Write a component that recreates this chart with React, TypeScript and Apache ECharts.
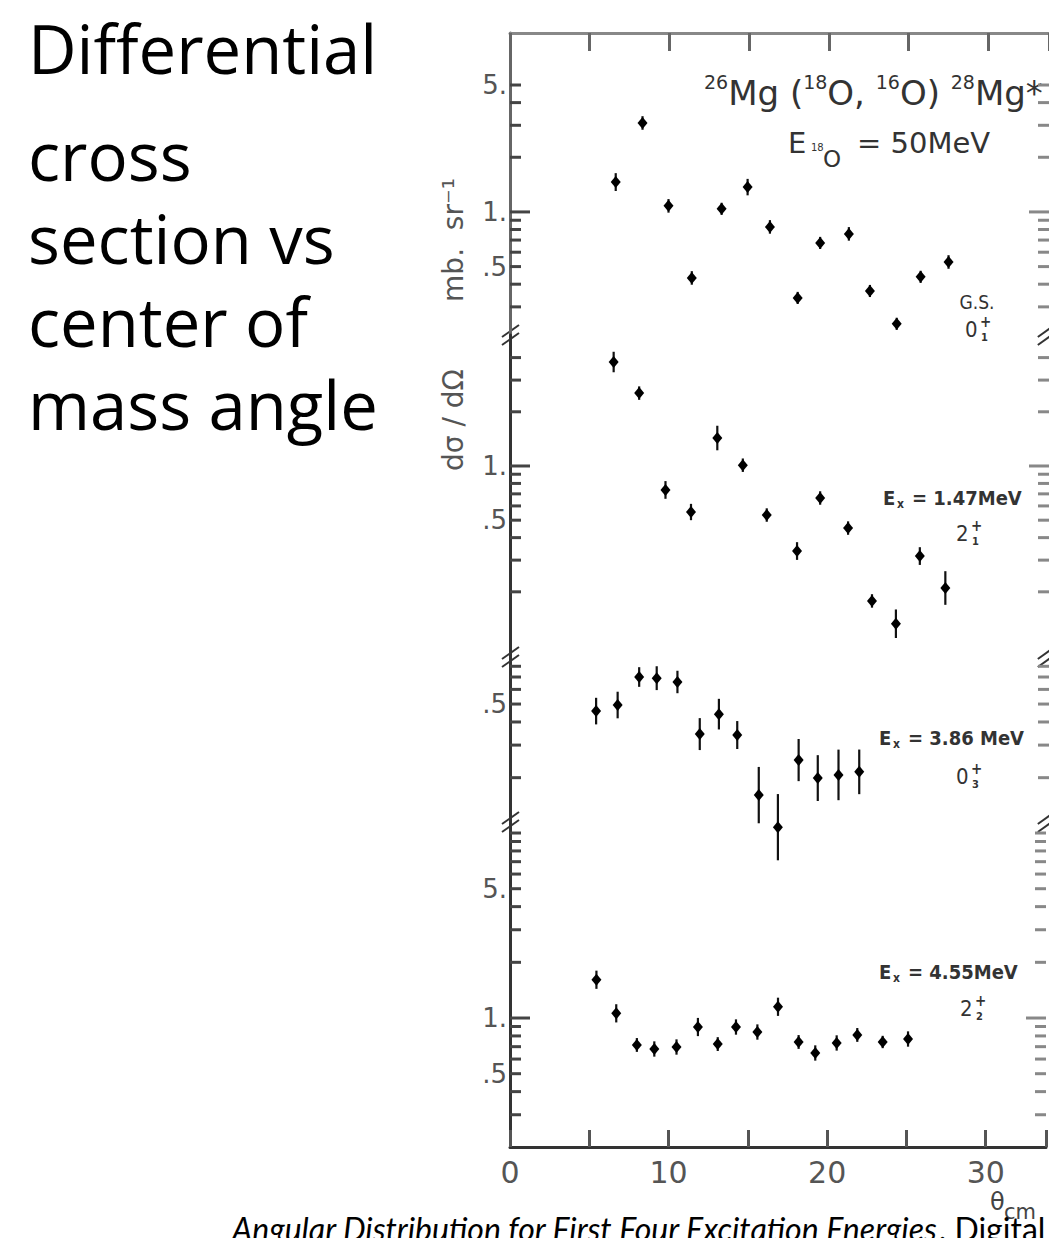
import React, { useEffect, useRef } from "react";
import * as echarts from "echarts";

// ---------------- data ----------------
const THETA_TICK_LABELS = ["0", "10", "20", "30"];

// Panel 1: ground state 0+1
const GS_THETA = [6.63, 8.31, 9.94, 11.4, 13.27, 14.9, 16.3, 18.04, 19.45, 21.25, 22.57, 24.25, 25.75, 27.5];
const GS_SIGMA = [1.46, 3.09, 1.08, 0.433, 1.04, 1.37, 0.827, 0.336, 0.675, 0.757, 0.367, 0.242, 0.439, 0.53];
const GS_ERR = [1.12, 1.09, 1.09, 1.09, 1.08, 1.11, 1.09, 1.08, 1.08, 1.09, 1.08, 1.08, 1.08, 1.09];

// Panel 2: Ex = 1.47 MeV 2+1
const E147_THETA = [6.5, 8.1, 9.75, 11.35, 13.0, 14.6, 16.1, 18.0, 19.45, 21.2, 22.7, 24.2, 25.7, 27.3];
const E147_SIGMA = [3.78, 2.54, 0.736, 0.555, 1.43, 1.01, 0.534, 0.337, 0.664, 0.452, 0.178, 0.133, 0.316, 0.21];
const E147_ERR = [1.14, 1.09, 1.12, 1.11, 1.17, 1.09, 1.09, 1.12, 1.09, 1.09, 1.09, 1.2, 1.12, 1.24];

// Panel 3: Ex = 3.86 MeV 0+3
const E386_THETA = [5.4, 6.75, 8.1, 9.2, 10.5, 11.9, 13.1, 14.25, 15.6, 16.8, 18.1, 19.3, 20.6, 21.9];
const E386_SIGMA = [0.458, 0.494, 0.7, 0.69, 0.658, 0.344, 0.441, 0.34, 0.161, 0.108, 0.249, 0.199, 0.207, 0.215];
const E386_ERR = [1.18, 1.18, 1.13, 1.16, 1.15, 1.22, 1.21, 1.19, 1.42, 1.51, 1.3, 1.33, 1.37, 1.32];

// Panel 4: Ex = 4.55 MeV 2+2
const E455_THETA = [5.45, 6.7, 8.0, 9.1, 10.5, 11.85, 13.1, 14.25, 15.6, 16.9, 18.2, 19.25, 20.6, 21.9, 23.5, 25.1];
const E455_SIGMA = [1.61, 1.06, 0.715, 0.68, 0.697, 0.894, 0.723, 0.894, 0.84, 1.15, 0.742, 0.647, 0.733, 0.81, 0.742, 0.77];
const E455_ERR = [1.12, 1.12, 1.09, 1.1, 1.1, 1.12, 1.09, 1.1, 1.1, 1.12, 1.09, 1.1, 1.1, 1.09, 1.08, 1.1];

// y-axis ticks and labels per panel
const GS_TICKS = [0.3, 0.4, 0.5, 0.6, 0.7, 0.8, 0.9, 1, 2, 3, 4, 5];
const E147_TICKS = [0.2, 0.3, 0.4, 0.5, 0.6, 0.7, 0.8, 0.9, 1, 2, 3, 4];
const E386_TICKS = [0.2, 0.3, 0.4, 0.5, 0.6, 0.7, 0.8];
const E455_TICKS = [0.3, 0.4, 0.5, 0.6, 0.7, 0.8, 0.9, 1, 2, 3, 4, 5, 6, 7, 8, 9, 10];

const GS_LABEL_VALUES = [5, 1, 0.5];
const GS_LABELS = ["5.", "1.", ".5"];
const E147_LABEL_VALUES = [1, 0.5];
const E147_LABELS = ["1.", ".5"];
const E386_LABEL_VALUES = [0.5];
const E386_LABELS = [".5"];
const E455_LABEL_VALUES = [5, 1, 0.5];
const E455_LABELS = ["5.", "1.", ".5"];

// axis ranges (log scale)
const GS_RANGE = [0.21, 9.67];
const E147_RANGE = [0.0869, 5.34];
const E386_RANGE = [0.1152, 0.898];
const E455_RANGE = [0.2008, 11.47];

const X_MIN = 0;
const X_MAX = 33.8;

const SIDE_TEXT = ["Differential", "cross", "section vs", "center of", "mass angle"];

// ---------------- layout ----------------
const GRID_LEFT = 510;
const PX_PER_DEG = 16;
const PANEL_EDGES = [33, 335, 657, 822, 1147];
const SIDE_TEXT_Y = [47.5, 155, 238, 321, 404];

const PANELS = [
  { theta: GS_THETA, sigma: GS_SIGMA, err: GS_ERR, ticks: GS_TICKS, lv: GS_LABEL_VALUES, lt: GS_LABELS, range: GS_RANGE },
  { theta: E147_THETA, sigma: E147_SIGMA, err: E147_ERR, ticks: E147_TICKS, lv: E147_LABEL_VALUES, lt: E147_LABELS, range: E147_RANGE },
  { theta: E386_THETA, sigma: E386_SIGMA, err: E386_ERR, ticks: E386_TICKS, lv: E386_LABEL_VALUES, lt: E386_LABELS, range: E386_RANGE },
  { theta: E455_THETA, sigma: E455_SIGMA, err: E455_ERR, ticks: E455_TICKS, lv: E455_LABEL_VALUES, lt: E455_LABELS, range: E455_RANGE },
];

const AXIS_FONT = "DejaVu Sans";
const LABEL_FONT = "DejaVu Sans Condensed, DejaVu Sans";
const TEXT_FONT = "'Open Sans', Lato, sans-serif";
const CAPTION_FONT = "Lato, 'Open Sans', sans-serif";

function levelLabel(x: number, y: number, value: string) {
  return {
    type: "group",
    children: [
      { type: "text", x, y, style: { text: "E", fontSize: 20, fontWeight: "bold", fontFamily: LABEL_FONT, fill: "#333", verticalAlign: "middle" } },
      { type: "text", x: x + 14, y: y + 6, style: { text: "x", fontSize: 12, fontWeight: "bold", fontFamily: LABEL_FONT, fill: "#333", verticalAlign: "middle" } },
      { type: "text", x: x + 29, y, style: { text: value, fontSize: 20, fontWeight: "bold", fontFamily: LABEL_FONT, fill: "#333", verticalAlign: "middle" } },
    ],
  };
}

function spinLabel(x: number, y: number, j: string, n: string) {
  return {
    type: "group",
    children: [
      { type: "text", x, y, style: { text: j, fontSize: 22, fontFamily: LABEL_FONT, fill: "#333", verticalAlign: "middle" } },
      { type: "text", x: x + 15, y: y - 7, style: { text: "+", fontSize: 15, fontWeight: "bold", fontFamily: LABEL_FONT, fill: "#333", verticalAlign: "middle" } },
      { type: "text", x: x + 16, y: y + 8, style: { text: n, fontSize: 11, fontWeight: "bold", fontFamily: LABEL_FONT, fill: "#333", verticalAlign: "middle" } },
    ],
  };
}

function breakMark(x: number, y: number) {
  return {
    type: "group",
    children: [
      { type: "line", shape: { x1: x - 9, y1: y + 2, x2: x + 8, y2: y - 10 }, style: { stroke: "#333", lineWidth: 2 } },
      { type: "line", shape: { x1: x - 9, y1: y + 10, x2: x + 8, y2: y - 2 }, style: { stroke: "#333", lineWidth: 2 } },
    ],
  };
}

export default function App() {
  const ref = useRef<HTMLDivElement>(null);

  useEffect(() => {
    const chart = echarts.init(ref.current!, null, { renderer: "svg" });
    const plotWidth = (X_MAX - X_MIN) * PX_PER_DEG;

    const grids = PANELS.map((_, i) => ({
      left: GRID_LEFT,
      top: PANEL_EDGES[i],
      width: plotWidth,
      height: PANEL_EDGES[i + 1] - PANEL_EDGES[i],
      containLabel: false,
    }));

    const xAxes = PANELS.map((_, i) => {
      const base: any = {
        gridIndex: i,
        type: "value",
        min: X_MIN,
        max: X_MAX,
        interval: 5,
        splitLine: { show: false },
      };
      if (i === 0) {
        return {
          ...base,
          position: "top",
          axisLine: { show: true, onZero: false, lineStyle: { color: "#888", width: 3 } },
          axisTick: { show: true, inside: true, length: 18, lineStyle: { color: "#666", width: 3 } },
          axisLabel: { show: false },
        };
      }
      if (i === PANELS.length - 1) {
        return {
          ...base,
          position: "bottom",
          axisLine: { show: true, onZero: false, lineStyle: { color: "#333", width: 3 } },
          axisTick: { show: true, inside: true, length: 17, lineStyle: { color: "#555", width: 3 } },
          axisLabel: {
            show: true,
            margin: 10,
            fontSize: 30,
            fontFamily: AXIS_FONT,
            color: "#555",
            formatter: (v: number) => (THETA_TICK_LABELS.includes(String(v)) ? String(v) : ""),
          },
        };
      }
      return { ...base, show: false };
    });

    const yAxes = PANELS.map((p, i) => ({
      gridIndex: i,
      type: "log",
      logBase: 10,
      min: p.range[0],
      max: p.range[1],
      axisLine: { show: true, lineStyle: { color: i === 0 ? "#666" : "#333", width: 3 } },
      axisTick: { show: false },
      axisLabel: { show: false },
      splitLine: { show: false },
      minorTick: { show: false },
      minorSplitLine: { show: false },
    }));

    const series: any[] = [];
    PANELS.forEach((p, i) => {
      // y ticks (left and mirrored right)
      series.push({
        type: "custom",
        xAxisIndex: i,
        yAxisIndex: i,
        clip: false,
        silent: true,
        data: p.ticks.map((v) => [X_MIN, v]),
        renderItem: (params: any, api: any) => {
          const v = api.value(1);
          const l = api.coord([X_MIN, v]);
          const r = api.coord([X_MAX, v]);
          const len = v === 1 ? 20 : 11;
          return {
            type: "group",
            children: [
              { type: "line", shape: { x1: l[0], y1: l[1], x2: l[0] + len, y2: l[1] }, style: { stroke: "#444", lineWidth: 3 } },
              { type: "line", shape: { x1: r[0] - len, y1: r[1], x2: r[0], y2: r[1] }, style: { stroke: "#888", lineWidth: 3 } },
            ],
          };
        },
      });
      // y labels
      series.push({
        type: "custom",
        xAxisIndex: i,
        yAxisIndex: i,
        clip: false,
        silent: true,
        data: p.lv.map((v) => [X_MIN, v]),
        renderItem: (params: any, api: any) => {
          const c = api.coord([X_MIN, api.value(1)]);
          return {
            type: "text",
            x: c[0] - 3,
            y: c[1],
            style: {
              text: p.lt[params.dataIndex],
              fontSize: 26,
              fontFamily: AXIS_FONT,
              fill: "#555",
              align: "right",
              verticalAlign: "middle",
            },
          };
        },
      });
      // data points with error bars
      series.push({
        type: "custom",
        xAxisIndex: i,
        yAxisIndex: i,
        clip: false,
        silent: true,
        encode: { x: 0, y: 1 },
        data: p.theta.map((t, k) => [t, p.sigma[k], p.sigma[k] / p.err[k], p.sigma[k] * p.err[k]]),
        renderItem: (params: any, api: any) => {
          const x = api.value(0);
          const c = api.coord([x, api.value(1)]);
          const lo = api.coord([x, api.value(2)]);
          const hi = api.coord([x, api.value(3)]);
          return {
            type: "group",
            children: [
              { type: "line", shape: { x1: c[0], y1: lo[1], x2: c[0], y2: hi[1] }, style: { stroke: "#111", lineWidth: 2.2 } },
              {
                type: "polygon",
                shape: { points: [[c[0], c[1] - 6], [c[0] + 5, c[1]], [c[0], c[1] + 6], [c[0] - 5, c[1]]] },
                style: { fill: "#000" },
              },
            ],
          };
        },
      });
    });

    const graphic: any[] = [
      // left explanatory text
      ...SIDE_TEXT.map((t, k) => ({
        type: "text",
        x: 28,
        y: SIDE_TEXT_Y[k],
        style: { text: t, fontSize: 67, fontFamily: TEXT_FONT, fill: "#000", verticalAlign: "middle" },
      })),
      // y axis title (rotated, reading upwards)
      {
        type: "text",
        x: 453,
        y: 420,
        rotation: Math.PI / 2,
        style: { text: "d\u03C3 / d\u03A9", fontSize: 28, fontFamily: AXIS_FONT, fill: "#555", align: "center", verticalAlign: "middle" },
      },
      {
        type: "text",
        x: 453,
        y: 240,
        rotation: Math.PI / 2,
        style: { text: "mb.  sr\u207B\u00B9", fontSize: 28, fontFamily: AXIS_FONT, fill: "#555", align: "center", verticalAlign: "middle" },
      },
      // reaction title
      {
        type: "text",
        x: 704,
        y: 91,
        style: {
          text: "{s|26}{b|Mg (}{s|18}{b|O, }{s|16}{b|O) }{s|28}{b|Mg*}",
          verticalAlign: "middle",
          rich: {
            b: { fontSize: 34, fontFamily: AXIS_FONT, fill: "#333", lineHeight: 38, verticalAlign: "bottom" },
            s: { fontSize: 19, fontFamily: AXIS_FONT, fill: "#333", lineHeight: 38, verticalAlign: "top" },
          },
        },
      },
      { type: "text", x: 788, y: 143, style: { text: "E", fontSize: 29, fontFamily: AXIS_FONT, fill: "#333", verticalAlign: "middle" } },
      { type: "text", x: 811, y: 147, style: { text: "18", fontSize: 10, fontFamily: AXIS_FONT, fill: "#333", verticalAlign: "middle" } },
      { type: "text", x: 823, y: 159, style: { text: "O", fontSize: 23, fontFamily: AXIS_FONT, fill: "#333", verticalAlign: "middle" } },
      { type: "text", x: 857, y: 143, style: { text: "= 50MeV", fontSize: 29, fontFamily: AXIS_FONT, fill: "#333", verticalAlign: "middle" } },
      // panel annotations
      { type: "text", x: 977, y: 302, style: { text: "G.S.", fontSize: 19, fontFamily: LABEL_FONT, fill: "#333", align: "center", verticalAlign: "middle" } },
      spinLabel(965, 329, "0", "1"),
      levelLabel(883, 498, "= 1.47MeV"),
      spinLabel(956, 533, "2", "1"),
      levelLabel(879, 738, "= 3.86 MeV"),
      spinLabel(956, 776, "0", "3"),
      levelLabel(879, 972, "= 4.55MeV"),
      spinLabel(960, 1008, "2", "2"),
      // break marks on axes
      ...PANEL_EDGES.slice(1, -1).flatMap((y) => [breakMark(GRID_LEFT + 1, y), breakMark(GRID_LEFT + plotWidth - 4, y)]),
      // x axis title
      { type: "text", x: 990, y: 1202, style: { text: "\u03B8", fontSize: 24, fontFamily: AXIS_FONT, fill: "#444", verticalAlign: "middle" } },
      { type: "text", x: 1004, y: 1212, style: { text: "cm", fontSize: 21, fontFamily: AXIS_FONT, fill: "#444", verticalAlign: "middle" } },
      // caption (cut at the bottom edge, as in the source)
      {
        type: "text",
        x: 232,
        y: 1228,
        style: {
          text: "{i|Angular Distribution for First Four Excitation Energies}{n|. Digital}",
          verticalAlign: "middle",
          rich: {
            i: { fontSize: 32, fontStyle: "italic", fontFamily: CAPTION_FONT, fill: "#000" },
            n: { fontSize: 32, fontFamily: CAPTION_FONT, fill: "#000" },
          },
        },
      },
    ];

    chart.setOption({
      animation: false,
      backgroundColor: "#fff",
      grid: grids,
      xAxis: xAxes,
      yAxis: yAxes,
      series,
      graphic,
    });

    return () => chart.dispose();
  }, []);

  return (
    <div
      ref={ref}
      style={{ position: "absolute", left: 0, top: 0, width: 1049, height: 1238, background: "#fff", overflow: "hidden" }}
    />
  );
}
